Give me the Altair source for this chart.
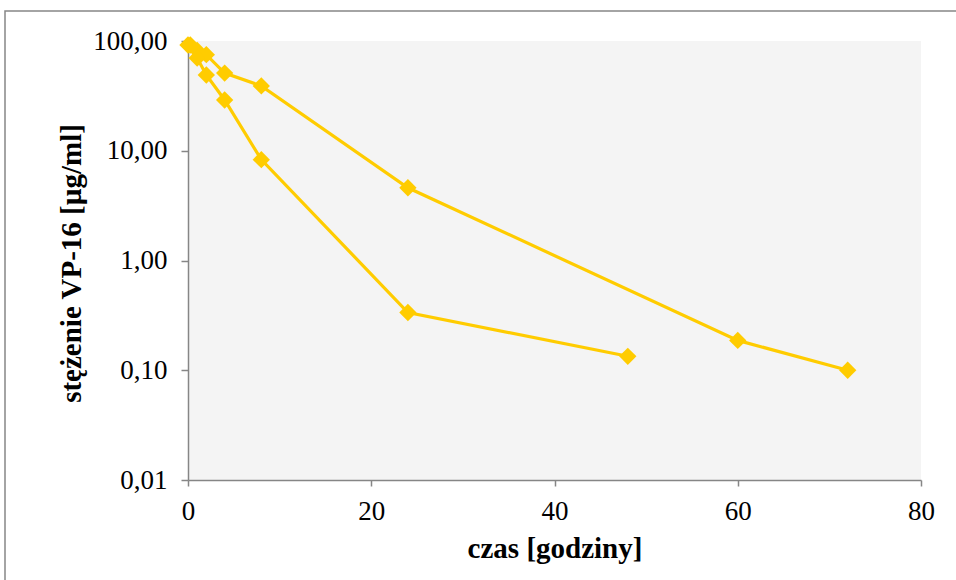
import altair as alt
import pandas as pd

# Series 1 (upper curve)
t_upper = [0.25, 1, 2, 4, 8, 24, 60, 72]
c_upper = [92, 82, 75, 51, 39, 4.6, 0.187, 0.10]
# Series 2 (lower curve)
t_lower = [0, 1, 2, 4, 8, 24, 48]
c_lower = [92, 70, 49, 29, 8.3, 0.336, 0.134]

x_ticks = [0, 20, 40, 60, 80]
y_ticks = [0.01, 0.1, 1, 10, 100]

rows = [{"seria": "A", "t": t, "c": c} for t, c in zip(t_upper, c_upper)]
rows += [{"seria": "B", "t": t, "c": c} for t, c in zip(t_lower, c_lower)]
df = pd.DataFrame(rows)

GOLD = "#FFCC00"
AXIS_GRAY = "#868686"
FONT = "Liberation Serif"

x_enc = alt.X(
    "t:Q",
    scale=alt.Scale(domain=[0, 80], nice=False),
    axis=alt.Axis(
        values=x_ticks,
        title="czas [godziny]",
        grid=False,
        domainColor=AXIS_GRAY,
        domainWidth=1.5,
        tickColor=AXIS_GRAY,
        tickWidth=1.5,
        tickSize=6,
        labelFont=FONT,
        labelFontSize=27,
        labelColor="black",
        labelPadding=12,
        labelFlush=False,
        labelOverlap=False,
        titleFont=FONT,
        titleFontSize=29,
        titleFontWeight="bold",
        titleColor="black",
        titlePadding=10,
    ),
)
y_enc = alt.Y(
    "c:Q",
    scale=alt.Scale(type="log", domain=[0.01, 100], nice=False),
    axis=alt.Axis(
        values=y_ticks,
        labelExpr="replace(format(datum.value, '.2f'), '.', ',')",
        title="stężenie VP-16 [µg/ml]",
        grid=False,
        domainColor=AXIS_GRAY,
        domainWidth=1.5,
        tickColor=AXIS_GRAY,
        tickWidth=1.5,
        tickSize=7,
        labelFont=FONT,
        labelFontSize=27,
        labelColor="black",
        labelPadding=14,
        labelFlush=False,
        labelOverlap=False,
        titleFont=FONT,
        titleFontSize=29,
        titleFontWeight="bold",
        titleColor="black",
        titleX=-117,
        titleY=222,
        titleAlign="center",
        titleBaseline="middle",
        titleAngle=-90,
    ),
)

lines = alt.Chart(df).mark_line(color=GOLD, strokeWidth=3.2, clip=False).encode(
    x=x_enc, y=y_enc, detail="seria:N"
)
points = alt.Chart(df).mark_point(
    shape="diamond", filled=True, color=GOLD, size=300, opacity=1, clip=False
).encode(x="t:Q", y="c:Q", detail="seria:N")

frame = alt.Chart(pd.DataFrame({"a": [0]})).mark_rect(
    fill=None, stroke=AXIS_GRAY, strokeWidth=1.5, clip=False
).encode(
    x=alt.value(-183), x2=alt.value(1200), y=alt.value(-30), y2=alt.value(900)
)

chart = (
    alt.layer(frame, lines, points)
    .properties(
        width=733,
        height=439,
        autosize=alt.AutoSizeParams(type="none"),
        padding={"left": 188, "top": 41, "right": 35, "bottom": 100},
        background="white",
    )
    .configure_view(fill="#F4F4F4", stroke=None)
)

chart.save("out.html", embed_options={"renderer": "svg", "actions": False})
